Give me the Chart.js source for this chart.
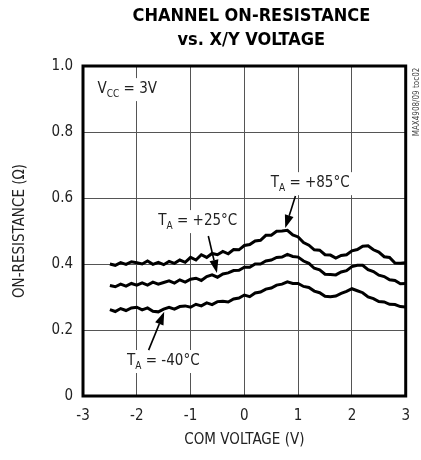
<!DOCTYPE html>
<html>
<head>
<meta charset="utf-8">
<script src="https://cdn.jsdelivr.net/npm/chart.js@4.4.1/dist/chart.umd.min.js"></script>
<style>
html,body{margin:0;padding:0;background:#fff;}
#wrap{width:421px;height:460px;position:relative;}
</style>
</head>
<body>
<div id="wrap"><canvas id="c" width="421" height="460"></canvas></div>
<script>
// ---- data ----
const voltage = [-2.5,-2.4,-2.3,-2.2,-2.1,-2.0,-1.9,-1.8,-1.7,-1.6,-1.5,-1.4,-1.3,-1.2,-1.1,-1.0,-0.9,-0.8,-0.7,-0.6,-0.5,-0.4,-0.3,-0.2,-0.1,0.0,0.1,0.2,0.3,0.4,0.5,0.6,0.7,0.8,0.9,1.0,1.1,1.2,1.3,1.4,1.5,1.6,1.7,1.8,1.9,2.0,2.1,2.2,2.3,2.4,2.5,2.6,2.7,2.8,2.9,3.0];
const rOn85 = [0.400,0.396,0.404,0.399,0.407,0.404,0.400,0.409,0.399,0.405,0.398,0.408,0.402,0.412,0.405,0.420,0.412,0.428,0.420,0.432,0.428,0.438,0.431,0.444,0.443,0.456,0.459,0.470,0.472,0.487,0.487,0.499,0.500,0.502,0.488,0.482,0.465,0.457,0.443,0.442,0.428,0.427,0.418,0.426,0.428,0.440,0.444,0.454,0.455,0.443,0.436,0.422,0.420,0.403,0.402,0.404];
const rOn25 = [0.335,0.331,0.339,0.333,0.341,0.336,0.343,0.336,0.345,0.339,0.344,0.349,0.342,0.352,0.345,0.354,0.357,0.350,0.362,0.367,0.360,0.370,0.373,0.380,0.381,0.390,0.390,0.400,0.400,0.409,0.412,0.420,0.421,0.429,0.423,0.421,0.409,0.402,0.387,0.382,0.369,0.368,0.367,0.376,0.380,0.392,0.396,0.396,0.383,0.377,0.366,0.362,0.352,0.350,0.340,0.341];
const rOnM40 = [0.262,0.256,0.265,0.259,0.267,0.269,0.261,0.267,0.257,0.255,0.263,0.269,0.263,0.271,0.273,0.269,0.278,0.273,0.282,0.277,0.286,0.287,0.285,0.294,0.297,0.306,0.301,0.312,0.315,0.324,0.327,0.336,0.339,0.346,0.341,0.341,0.332,0.329,0.318,0.313,0.302,0.301,0.303,0.311,0.317,0.325,0.319,0.313,0.300,0.295,0.286,0.285,0.278,0.277,0.271,0.270];
const xTickValues = [-3,-2,-1,0,1,2,3];
const yTickValues = [0,0.2,0.4,0.6,0.8,1.0];
const titleLines = ['CHANNEL ON-RESISTANCE','vs. X/Y VOLTAGE'];
const xTitle = 'COM VOLTAGE (V)';
const yTitle = 'ON-RESISTANCE (\u03A9)';
// annotation labels: [main, subscript, rest, anchor x (V), anchor y (ohm)]
const labels = [
  ['V','CC',' = 3V', -2.73, 0.93],
  ['T','A',' = +85\u00B0C', 0.49, 0.645],
  ['T','A',' = +25\u00B0C', -1.6, 0.53],
  ['T','A',' = -40\u00B0C', -2.18, 0.106]
];
// arrows: [tail V, tail ohm, tip V, tip ohm]
const arrows = [
  [0.95, 0.606, 0.76, 0.509],
  [-0.67, 0.485, -0.51, 0.373],
  [-1.78, 0.139, -1.49, 0.255]
];
const sideNote = 'MAX4908/09 toc02';

const FONT = "'Liberation Sans Narrow','DejaVu Sans Condensed','Roboto Condensed','Arial Narrow',Roboto,sans-serif";

function pts(ys){ return voltage.map((v,i)=>({x:v,y:ys[i]})); }

const deco = {
  id:'deco',
  beforeDatasetsDraw(chart){
    const ctx = chart.ctx, xs = chart.scales.x, ys = chart.scales.y;
    ctx.save();
    labels.forEach(l=>{
      const px = xs.getPixelForValue(l[3]), py = ys.getPixelForValue(l[4]);
      ctx.font = "15px " + FONT;
      const w1 = ctx.measureText(l[0]).width;
      ctx.font = "10px " + FONT;
      const w2 = ctx.measureText(l[1]).width;
      ctx.font = "15px " + FONT;
      const w3 = ctx.measureText(l[2]).width;
      const W = w1+w2+w3;
      ctx.fillStyle = '#fff';
      ctx.fillRect(px-3, py-11, W+6, 23);
      ctx.fillStyle = '#222';
      ctx.textBaseline = 'middle';
      ctx.textAlign = 'left';
      ctx.font = "15px " + FONT;
      ctx.fillText(l[0], px, py);
      ctx.font = "10px " + FONT;
      ctx.fillText(l[1], px+w1, py+5);
      ctx.font = "15px " + FONT;
      ctx.fillText(l[2], px+w1+w2, py);
    });
    ctx.strokeStyle = '#000'; ctx.fillStyle = '#000'; ctx.lineWidth = 1.6;
    arrows.forEach(a=>{
      const x0 = xs.getPixelForValue(a[0]), y0 = ys.getPixelForValue(a[1]);
      const x1 = xs.getPixelForValue(a[2]), y1 = ys.getPixelForValue(a[3]);
      const ang = Math.atan2(y1-y0, x1-x0);
      const L = 13, H = 4.5;
      const bx = x1 - L*Math.cos(ang), by = y1 - L*Math.sin(ang);
      ctx.beginPath(); ctx.moveTo(x0,y0); ctx.lineTo(bx,by); ctx.stroke();
      ctx.beginPath();
      ctx.moveTo(x1,y1);
      ctx.lineTo(bx + H*Math.sin(ang), by - H*Math.cos(ang));
      ctx.lineTo(bx - H*Math.sin(ang), by + H*Math.cos(ang));
      ctx.closePath(); ctx.fill();
    });
    ctx.restore();
  },
  afterDraw(chart){
    const ctx = chart.ctx, a = chart.chartArea;
    ctx.save();
    ctx.strokeStyle = '#000'; ctx.lineWidth = 3;
    ctx.strokeRect(a.left, a.top, a.right-a.left, a.bottom-a.top);
    ctx.fillStyle = '#000';
    ctx.textAlign = 'center'; ctx.textBaseline = 'middle';
    ctx.font = "bold 18px " + FONT;
    const cx = (a.left + a.right)/2 + 7;
    ctx.fillText(titleLines[0], cx, 16);
    ctx.fillText(titleLines[1], cx, 40);
    ctx.translate(417, a.top + 36);
    ctx.rotate(-Math.PI/2);
    ctx.font = "8px " + FONT;
    ctx.fillStyle = '#444';
    ctx.fillText(sideNote, 0, 0);
    ctx.restore();
  }
};

new Chart(document.getElementById('c'), {
  type:'line',
  data:{
    datasets:[
      {label:'TA = +85°C', data:pts(rOn85)},
      {label:'TA = +25°C', data:pts(rOn25)},
      {label:'TA = -40°C', data:pts(rOnM40)}
    ].map(d=>Object.assign(d,{borderColor:'#000',borderWidth:3,pointRadius:0,tension:0,fill:false}))
  },
  options:{
    responsive:false,
    animation:false,
    layout:{padding:{top:66,right:8,left:0,bottom:0}},
    plugins:{legend:{display:false},tooltip:{enabled:false},title:{display:false}},
    scales:{
      x:{
        type:'linear', min:-3, max:3,
        afterFit(s){ s.height = 64; },
        afterBuildTicks(s){ s.ticks = xTickValues.map(v=>({value:v})); },
        ticks:{padding:11, color:'#222', font:{family:FONT,size:15}, callback:v=>String(v), maxRotation:0},
        grid:{color:'#555', lineWidth:1, drawTicks:false},
        border:{display:false},
        title:{display:true, text:xTitle, color:'#222', font:{family:FONT,size:15}, padding:{top:0,bottom:11}}
      },
      y:{
        min:0, max:1,
        afterFit(s){ s.width = 83; },
        afterBuildTicks(s){ s.ticks = yTickValues.map(v=>({value:v})); },
        ticks:{padding:10, color:'#222', font:{family:FONT,size:15}, callback:v=> v===0 ? '0' : Number(v).toFixed(1)},
        grid:{color:'#555', lineWidth:1, drawTicks:false},
        border:{display:false},
        title:{display:true, text:yTitle, color:'#222', font:{family:FONT,size:15}, padding:{top:11,bottom:0}}
      }
    }
  },
  plugins:[deco]
});
</script>
</body>
</html>
